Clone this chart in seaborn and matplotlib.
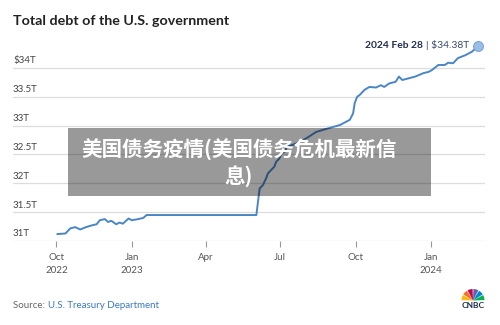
import matplotlib
matplotlib.use("Agg")
import matplotlib.pyplot as plt
from matplotlib.patches import Rectangle, Wedge
import pandas as pd
import seaborn as sns

# Total public debt outstanding, trillions of dollars
dates = [
    "2022-10-02", "2022-10-12", "2022-10-18", "2022-10-24", "2022-10-30",
    "2022-11-06", "2022-11-13", "2022-11-19", "2022-11-23", "2022-11-29",
    "2022-12-03", "2022-12-07", "2022-12-13", "2022-12-17", "2022-12-21",
    "2022-12-28", "2023-01-01", "2023-01-09", "2023-01-15", "2023-01-19",
    "2023-06-02", "2023-06-05", "2023-06-06", "2023-06-10", "2023-06-14",
    "2023-06-16", "2023-06-20", "2023-06-24", "2023-06-26", "2023-06-30",
    "2023-07-03", "2023-07-07", "2023-07-09", "2023-07-21", "2023-08-02",
    "2023-08-14", "2023-08-28", "2023-09-12", "2023-09-24", "2023-09-28",
    "2023-09-30", "2023-10-03", "2023-10-06", "2023-10-12", "2023-10-18",
    "2023-10-26", "2023-11-01", "2023-11-05", "2023-11-11", "2023-11-19",
    "2023-11-23", "2023-11-27", "2023-12-05", "2023-12-13", "2023-12-23",
    "2023-12-29", "2024-01-02", "2024-01-10", "2024-01-18", "2024-01-22",
    "2024-01-28", "2024-02-03", "2024-02-12", "2024-02-20", "2024-02-28",
]
debt_trillions = [
    31.12, 31.13, 31.22, 31.24, 31.20,
    31.24, 31.27, 31.29, 31.36, 31.38,
    31.33, 31.35, 31.29, 31.32, 31.30,
    31.39, 31.36, 31.38, 31.40, 31.45,
    31.45, 31.80, 31.91, 31.97, 32.09,
    32.17, 32.23, 32.29, 32.37, 32.43,
    32.52, 32.55, 32.63, 32.69, 32.78,
    32.89, 32.95, 33.01, 33.10, 33.21,
    33.39, 33.50, 33.53, 33.62, 33.67,
    33.66, 33.70, 33.67, 33.73, 33.76,
    33.85, 33.79, 33.82, 33.85, 33.91,
    33.93, 33.96, 34.05, 34.05, 34.09,
    34.08, 34.17, 34.22, 34.28, 34.38,
]

ytick_values = [31, 31.5, 32, 32.5, 33, 33.5, 34]
ytick_labels = ["31T", "31.5T", "32T", "32.5T", "33T", "33.5T", "$34T"]
xtick_dates = ["2022-10-01", "2023-01-01", "2023-04-01",
               "2023-07-01", "2023-10-01", "2024-01-01"]
xtick_labels = ["Oct\n2022", "Jan\n2023", "Apr", "Jul", "Oct", "Jan\n2024"]

title = "Total debt of the U.S. government"
last_label_date = "2024 Feb 28"
last_label_value = f"| ${debt_trillions[-1]:.2f}T"
banner_text = "美国债务疫情(美国债务危机最新信\n息)"

df = pd.DataFrame({"date": pd.to_datetime(dates), "debt": debt_trillions})

sns.set_theme(style="white")
plt.rcParams["font.family"] = ["Lato", "DejaVu Sans"]

W, H = 500, 325
fig = plt.figure(figsize=(W / 100, H / 100), dpi=100)


def fx(x):
    return x / W


def fy(y):
    return 1 - y / H


line_color = "#4a86c6"
ax = fig.add_axes([fx(13), fy(241), fx(485) - fx(13), fy(35) - fy(241)])
sns.lineplot(data=df, x="date", y="debt", ax=ax, color=line_color,
             linewidth=1.4, zorder=3)
ax.scatter(df["date"].iloc[-1], df["debt"].iloc[-1], s=50,
           color="#9bbde6", edgecolor="#7aa6da", linewidth=0.8, zorder=4)

ax.set_xlim(pd.Timestamp("2022-08-09"), pd.Timestamp("2024-03-07"))
ax.set_ylim(31, 34.57)
ax.set_xlabel("")
ax.set_ylabel("")
for s in ax.spines.values():
    s.set_visible(False)

ax.set_yticks(ytick_values)
ax.set_yticklabels([])
ax.tick_params(axis="y", length=0)
ax.yaxis.grid(True, color="#dddddd", linewidth=0.9)
ax.xaxis.grid(False)
for v, lab in zip(ytick_values, ytick_labels):
    ax.annotate(lab, xy=(0, v), xycoords=("axes fraction", "data"),
                xytext=(0, 1.8), textcoords="offset points",
                ha="left", va="bottom", fontsize=7, color="#444444")

ax.set_xticks(pd.to_datetime(xtick_dates))
ax.set_xticklabels(xtick_labels, fontsize=7, color="#555555",
                   linespacing=1.5)
ax.tick_params(axis="x", length=4, width=0.8, color="#999999", pad=5,
               bottom=True)

# Title
fig.text(fx(13), fy(21), title, fontsize=10.3, fontweight="bold",
         color="#222222", ha="left", va="center")

# Last value callout
fig.text(fx(423), fy(45), last_label_date, fontsize=7.4, fontweight="bold",
         color="#1f2d4f", ha="right", va="center")
fig.text(fx(426), fy(45), last_label_value, fontsize=7.4,
         color="#3a4a6a", ha="left", va="center")

# Caption banner
fig.patches.append(Rectangle((fx(68), fy(196)), fx(431) - fx(68),
                             fy(128) - fy(196), transform=fig.transFigure,
                             facecolor="black", alpha=0.4, edgecolor="none",
                             zorder=10))
fig.text(fx(239), fy(163), banner_text, fontsize=14.8, fontweight="bold",
         color="white", ha="center", va="center", multialignment="center",
         linespacing=1.2, zorder=11,
         family=["Noto Sans CJK SC", "DejaVu Sans"])

# Source line
src1 = fig.text(fx(13), fy(305.5), "Source: ", fontsize=7, color="#666666",
                ha="left", va="center")
fig.canvas.draw()
bb = src1.get_window_extent()
fig.text(bb.x1 / W, fy(305.5), "U.S. Treasury Department", fontsize=7,
         color="#3b79c2", ha="left", va="center")

# Peacock logo
lax = fig.add_axes([fx(461), fy(302), fx(24), fy(0) - fy(19)])
lax.set_xlim(-1.2, 1.2)
lax.set_ylim(-0.05, 1.85)
lax.set_aspect("equal")
lax.axis("off")
feathers = ["#fcb711", "#f37021", "#cc004c", "#6460aa", "#0089d0", "#0db14b"]
for i, c in enumerate(feathers):
    a0 = 180 - i * 30
    lax.add_patch(Wedge((0, 0.1), 1.15, a0 - 28, a0 - 2, facecolor=c,
                        edgecolor="none"))
fig.text(fx(473), fy(306), "CNBC", fontsize=6, fontweight="bold",
         color="#1a2a4a", ha="center", va="center")

fig.savefig("out.png", dpi=100)
